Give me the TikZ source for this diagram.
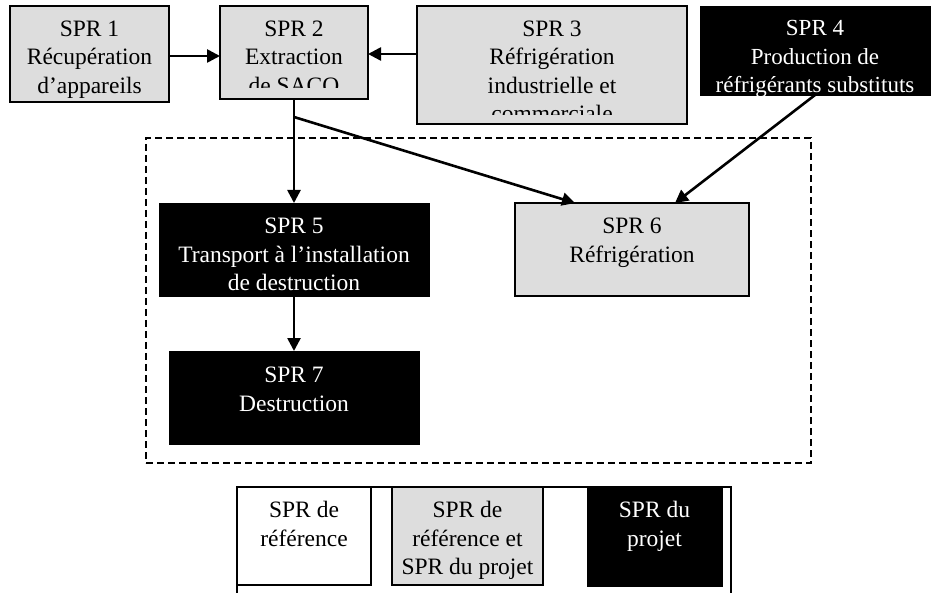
\documentclass[tikz,border=0pt]{standalone}
\usepackage{fontspec}
\setmainfont{Liberation Serif}
\usetikzlibrary{arrows.meta,calc}
\definecolor{boxgray}{RGB}{221,221,221}
\begin{document}
\begin{tikzpicture}[x=1pt,y=-1pt,
  box/.style={draw=black,line width=1.2pt,fill=boxgray,inner sep=0pt,outer sep=0pt,anchor=north west},
  blk/.style={draw=black,fill=black,inner sep=0pt,outer sep=0pt,anchor=north west},
  wbox/.style={draw=black,line width=1.2pt,fill=white,inner sep=0pt,outer sep=0pt,anchor=north west},
  txt/.style={font=\fontsize{23.5}{28.5}\selectfont,align=center,inner sep=0pt,anchor=north},
  wtxt/.style={txt,text=white},
  arr/.style={line width=2.6pt,-{Triangle[length=13pt,width=13pt]}},
  zone/.style={draw=black,line width=2.6pt,dash pattern=on 7pt off 4pt,inner sep=0pt,outer sep=0pt,anchor=north west}]
\useasboundingbox[fill=white] (0,0) rectangle (936,593);
% dashed zone
\node[zone,minimum width=665pt,minimum height=325pt] (zone) at (146,138) {};
% boxes
\node[box,minimum width=159pt,minimum height=96pt] (spr1) at (10,6) {};
\node[box,minimum width=148pt,minimum height=93pt] (spr2) at (220,6) {};
\node[box,minimum width=270pt,minimum height=118pt] (spr3) at (417,6) {};
\node[blk,minimum width=230pt,minimum height=89pt] (spr4) at (700,6) {};
\node[blk,minimum width=270pt,minimum height=93pt] (spr5) at (159,203) {};
\node[box,minimum width=234pt,minimum height=93pt] (spr6) at (515,203) {};
\node[blk,minimum width=250pt,minimum height=93pt] (spr7) at (169,351) {};
% texts
\node[txt] (t1) at (spr1.north |- 0,20.5) {SPR 1\\Récupération\\d’appareils};
\begin{scope}
\clip (220,6) rectangle (368,88);
\node[txt] (t2) at (spr2.north |- 0,20.5) {SPR 2\\Extraction\\de SACO};
\end{scope}
\begin{scope}
\clip (417,6) rectangle (687,115);
\node[txt] (t3) at (spr3.north |- 0,20.5) {SPR 3\\Réfrigération\\industrielle et\\commerciale};
\end{scope}
\node[wtxt,font=\fontsize{23}{28.5}\selectfont] (t4) at (spr4.north |- 0,20.5) {SPR 4\\Production de\\réfrigérants substituts};
\node[wtxt] (t5) at (spr5.north |- 0,218) {SPR 5\\Transport à l’installation\\de destruction};
\node[txt] (t6) at (spr6.north |- 0,218) {SPR 6\\Réfrigération};
\node[wtxt] (t7) at (spr7.north |- 0,367) {SPR 7\\Destruction};
% connectors
\draw[arr] (spr1.east |- 0,56) -- (spr2.west |- 0,56);
\draw[arr] (spr3.west |- 0,54) -- (spr2.east |- 0,54);
\draw[arr] (spr2.south) -- (spr5.north);
\coordinate (br) at ($(spr2.south)+(0,18)$);
\draw[arr] (br) -- ($(spr6.north west)+(60,0)$);
\draw[arr] (spr4.south) -- ($(spr6.north east)+(-74,0)$);
\draw[arr] (spr5.south) -- (spr5.south |- spr7.north);
% legend
\draw[line width=1.2pt] (237,593) -- (237,487) -- (731,487) -- (731,593);
\node[wbox,minimum width=134pt,minimum height=98pt] (lg1) at (237,487) {};
\node[box,minimum width=151pt,minimum height=98pt] (lg2) at (392,487) {};
\node[blk,minimum width=135pt,minimum height=99pt] (lg3) at (587,487) {};
\node[txt] (lt1) at (lg1.north |- 0,501) {SPR de\\référence};
\node[txt] (lt2) at (lg2.north |- 0,501) {SPR de\\référence et\\SPR du projet};
\node[wtxt] (lt3) at (lg3.north |- 0,501) {SPR du\\projet};
\end{tikzpicture}
\end{document}
